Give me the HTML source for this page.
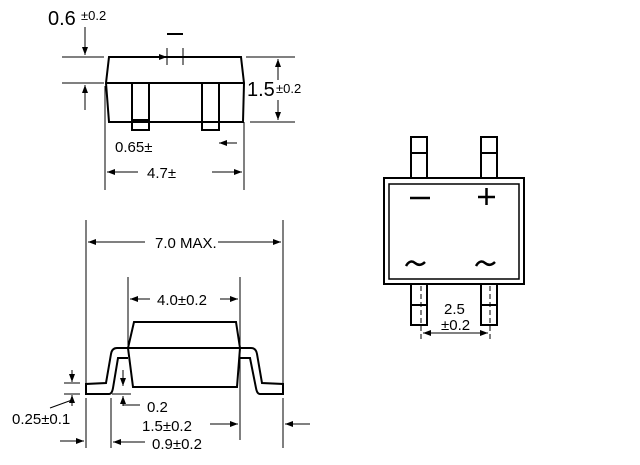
<!DOCTYPE html>
<html><head><style>
html,body{margin:0;padding:0;background:#fff;}
svg{display:block;}
text{font-family:"Liberation Sans",sans-serif;fill:#000;}
</style></head><body>
<svg width="640" height="465" viewBox="0 0 640 465" xmlns="http://www.w3.org/2000/svg">
<defs>
<marker id="a" markerWidth="8" markerHeight="6" refX="8" refY="3" orient="auto" markerUnits="userSpaceOnUse"><path d="M0,0 L8,3 L0,6 z" fill="#000"/></marker>
</defs>
<g fill="none" stroke="#000" stroke-width="1">
<path d="M109,57 L241,57 L244,83 L243,122 L109,122 L106,83 Z" stroke-width="2"/>
<line x1="106" y1="83" x2="244" y2="83" stroke-width="2"/>
<rect x="132" y="83" width="17" height="47" stroke-width="2"/>
<line x1="132" y1="120" x2="149" y2="120" stroke-width="2"/>
<rect x="202" y="83" width="17" height="47" stroke-width="2"/>
<line x1="167" y1="34" x2="183" y2="34" stroke-width="2"/>
<line x1="167" y1="48" x2="167" y2="65"/><line x1="183" y1="48" x2="183" y2="65"/>
<line x1="155" y1="57" x2="167" y2="57" marker-end="url(#a)"/>
<line x1="62" y1="57" x2="104" y2="57"/><line x1="62" y1="83" x2="104" y2="83"/>
<line x1="85" y1="27" x2="85" y2="55" marker-end="url(#a)"/>
<line x1="85" y1="110" x2="85" y2="85" marker-end="url(#a)"/>
<line x1="246" y1="57" x2="295" y2="57"/><line x1="250" y1="122" x2="295" y2="122"/>
<line x1="278" y1="80" x2="278" y2="59" marker-end="url(#a)"/>
<line x1="278" y1="100" x2="278" y2="120" marker-end="url(#a)"/>
<line x1="237" y1="143" x2="219" y2="143" marker-end="url(#a)"/>
<line x1="105" y1="86" x2="105" y2="190"/><line x1="244" y1="122" x2="244" y2="190"/>
<line x1="138" y1="172" x2="107" y2="172" marker-end="url(#a)"/>
<line x1="212" y1="172" x2="242" y2="172" marker-end="url(#a)"/>
<path d="M134,322 L236,322 L240,348 L237,387 L133,387 L128,348 Z" stroke-width="2"/>
<line x1="128" y1="348" x2="240" y2="348" stroke-width="2"/>
<path d="M128,348 L117,348 Q112,348 111,354 L106,383 L86,384 L86,394 L109,394 Q112,394 113,388 L118,358 L128,358" stroke-width="2"/>
<path d="M240,348 L251,348 Q256,348 257,354 L262,383 L283,384 L283,394 L260,394 Q257,394 256,388 L250,358 L240,358" stroke-width="2"/>
<line x1="86" y1="220" x2="86" y2="388"/><line x1="86" y1="398" x2="86" y2="448"/>
<line x1="283" y1="220" x2="283" y2="385"/><line x1="283" y1="398" x2="283" y2="448"/>
<line x1="145" y1="242" x2="88" y2="242" marker-end="url(#a)"/>
<line x1="218" y1="242" x2="281" y2="242" marker-end="url(#a)"/>
<line x1="128" y1="277" x2="128" y2="345"/><line x1="240" y1="277" x2="240" y2="440"/>
<line x1="150" y1="299" x2="130" y2="299" marker-end="url(#a)"/>
<line x1="220" y1="299" x2="238" y2="299" marker-end="url(#a)"/>
<line x1="64" y1="383" x2="80" y2="383"/><line x1="64" y1="394" x2="80" y2="394"/>
<line x1="72" y1="370" x2="72" y2="382" marker-end="url(#a)"/>
<line x1="72" y1="406" x2="72" y2="395" marker-end="url(#a)"/>
<line x1="72" y1="400" x2="50" y2="408"/>
<line x1="112" y1="394" x2="131" y2="394"/>
<line x1="123" y1="370" x2="123" y2="386" marker-end="url(#a)"/>
<line x1="123" y1="406" x2="123" y2="396" marker-end="url(#a)"/>
<line x1="123" y1="405" x2="140" y2="405"/>
<line x1="111" y1="398" x2="111" y2="448"/>
<line x1="210" y1="424" x2="238" y2="424" marker-end="url(#a)"/>
<line x1="310" y1="424" x2="285" y2="424" marker-end="url(#a)"/>
<line x1="60" y1="441" x2="84" y2="441" marker-end="url(#a)"/>
<line x1="145" y1="442" x2="113" y2="442" marker-end="url(#a)"/>
<rect x="384" y="178" width="140" height="106" stroke-width="2"/>
<rect x="389" y="184" width="130" height="95" stroke-width="1.5"/>
<rect x="411" y="137" width="16" height="41" stroke-width="2"/>
<line x1="411" y1="153" x2="427" y2="153" stroke-width="2"/>
<rect x="481" y="137" width="16" height="41" stroke-width="2"/>
<line x1="481" y1="153" x2="497" y2="153" stroke-width="2"/>
<rect x="411" y="284" width="16" height="41" stroke-width="2"/>
<line x1="411" y1="305" x2="427" y2="305" stroke-width="2"/>
<rect x="481" y="284" width="16" height="41" stroke-width="2"/>
<line x1="481" y1="305" x2="497" y2="305" stroke-width="2"/>
<line x1="421" y1="286" x2="421" y2="340" stroke-dasharray="5,3"/>
<line x1="490" y1="286" x2="490" y2="340" stroke-dasharray="5,3"/>
<line x1="455" y1="333" x2="423" y2="333" marker-end="url(#a)"/>
<line x1="455" y1="333" x2="488" y2="333" marker-end="url(#a)"/>
<line x1="410" y1="198" x2="430" y2="198" stroke-width="2.5"/>
<line x1="478" y1="197" x2="495" y2="197" stroke-width="2.5"/>
<line x1="486.5" y1="188" x2="486.5" y2="205" stroke-width="2.5"/>
<path d="M406,266 Q410,259 415,263 Q420,267 425,262" stroke-width="2.5"/>
<path d="M476,266 Q480,259 485,263 Q490,267 495,262" stroke-width="2.5"/>
</g>
<text x="48" y="25" font-size="20">0.6</text>
<text x="81" y="20" font-size="13">±0.2</text>
<text x="247" y="96" font-size="20">1.5</text>
<text x="276" y="93" font-size="13">±0.2</text>
<text x="115" y="152" font-size="15">0.65±</text>
<text x="147" y="178" font-size="15">4.7±</text>
<text x="155" y="248" font-size="15">7.0 MAX.</text>
<text x="157" y="305" font-size="15">4.0±0.2</text>
<text x="147" y="412" font-size="15">0.2</text>
<text x="12" y="424" font-size="15">0.25±0.1</text>
<text x="142" y="431" font-size="15">1.5±0.2</text>
<text x="152" y="449" font-size="15">0.9±0.2</text>
<text x="444" y="314" font-size="15">2.5</text>
<text x="441" y="330" font-size="15">±0.2</text>
</svg>
</body></html>
